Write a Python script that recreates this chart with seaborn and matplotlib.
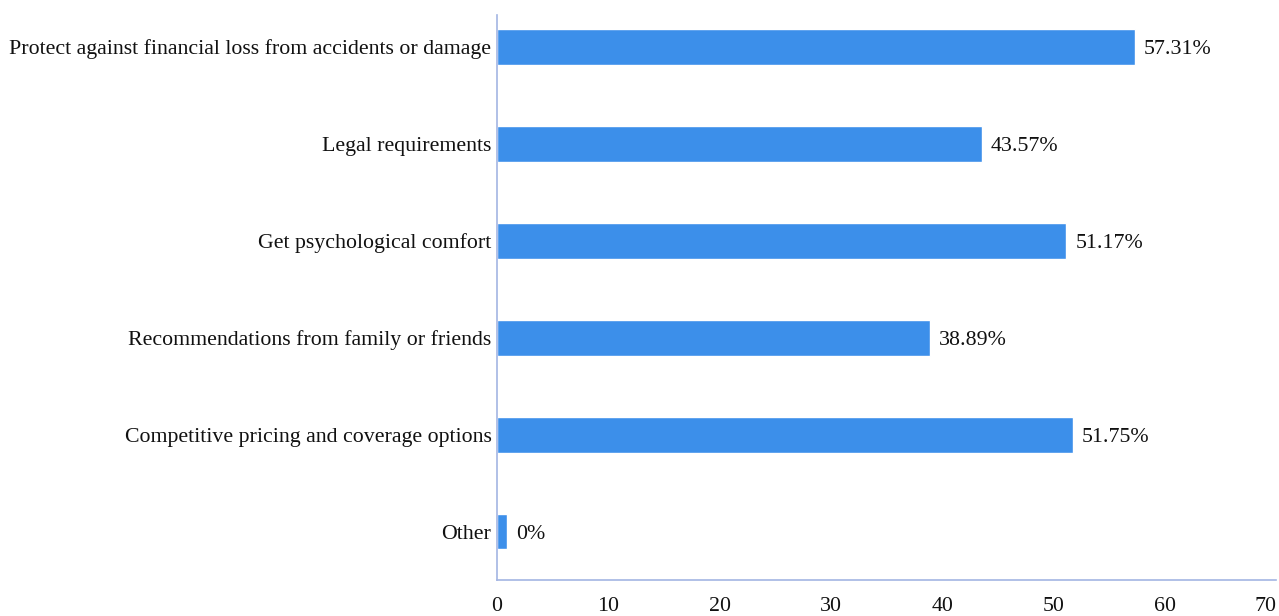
import matplotlib
matplotlib.use("Agg")
import matplotlib.pyplot as plt
import seaborn as sns
import pandas as pd

categories = [
    "Protect against financial loss from accidents or damage",
    "Legal requirements",
    "Get psychological comfort",
    "Recommendations from family or friends",
    "Competitive pricing and coverage options",
    "Other",
]
values = [57.31, 43.57, 51.17, 38.89, 51.75, 0]
value_labels = ["57.31%", "43.57%", "51.17%", "38.89%", "51.75%", "0%"]
x_ticks = [0, 10, 20, 30, 40, 50, 60, 70]

MIN_VISIBLE = 0.9  # zero-value bars are drawn as a thin stub

sns.set_theme(style="white")
plt.rcParams["font.family"] = ["Liberation Serif", "DejaVu Serif"]

df = pd.DataFrame({"category": categories,
                   "shown": [max(v, MIN_VISIBLE) for v in values]})

fig = plt.figure(figsize=(12.79, 6.16), dpi=100)
W, H = 1279, 616
left, right, top, bottom = 497, 1276, 15, 580
ax = fig.add_axes([left / W, 1 - bottom / H, (right - left) / W, (bottom - top) / H])

sns.barplot(data=df, x="shown", y="category", color="#3c8fea", width=0.37,
            saturation=1, ax=ax, orient="h")

FS = 15.75
ax.set_xlim(0, 70)
ax.set_ylim(5.5, -0.33)
ax.set_xticks(x_ticks)
ax.set_xticklabels([str(t) for t in x_ticks], fontsize=FS, color="#111111")
ax.get_xticklabels()[-1].set_horizontalalignment("right")
ax.tick_params(axis="x", length=0, pad=12)
ax.tick_params(axis="y", length=0, pad=4, labelsize=FS, labelcolor="#111111")
ax.set_xlabel("")
ax.set_ylabel("")
for s in ["top", "right"]:
    ax.spines[s].set_visible(False)
for s in ["left", "bottom"]:
    ax.spines[s].set_color("#a3b5e3")
    ax.spines[s].set_linewidth(1.2)
ax.grid(False)

for i, (v, lab) in enumerate(zip(df["shown"], value_labels)):
    ax.text(v + 0.8, i + 0.03, lab, va="center", ha="left", fontsize=FS, color="#111111")

fig.savefig("out.png", dpi=100)
